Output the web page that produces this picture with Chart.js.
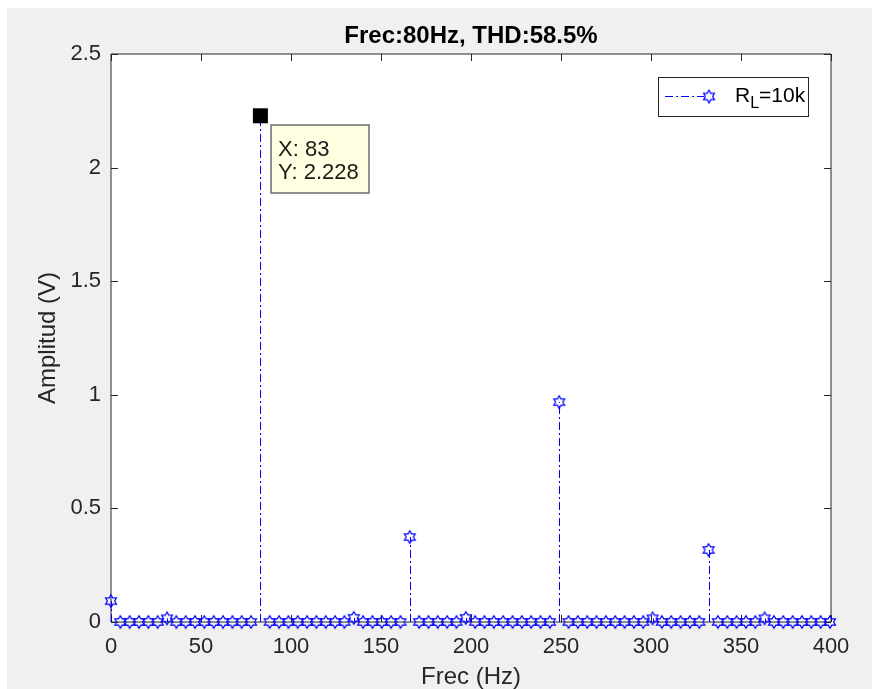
<!DOCTYPE html>
<html>
<head>
<meta charset="utf-8">
<script src="https://cdn.jsdelivr.net/npm/chart.js@4.4.1/dist/chart.umd.min.js"></script>
<style>
  html, body { margin:0; padding:0; background:#fff; }
  #wrap { width:872px; height:689px; }
</style>
</head>
<body>
<div id="wrap"><canvas id="fft" width="872" height="689"></canvas></div>
<script>
// spectrum: bin spacing of the FFT and the amplitude of each bin
const binHz = 83 / 16;
const amplitude = [
  0.092, 0, 0, 0, 0, 0, 0.016, 0, 0, 0,
  0, 0, 0, 0, 0, 0, 2.228, 0, 0, 0,
  0, 0, 0, 0, 0, 0, 0.018, 0, 0, 0,
  0, 0, 0.374, 0, 0, 0, 0, 0, 0.018, 0,
  0, 0, 0, 0, 0, 0, 0, 0, 0.968, 0,
  0, 0, 0, 0, 0, 0, 0, 0, 0.016, 0,
  0, 0, 0, 0, 0.317, 0, 0, 0, 0, 0,
  0.016, 0, 0, 0, 0, 0, 0, 0
];
const xTicks = [0, 50, 100, 150, 200, 250, 300, 350, 400];
const yTicks = [0, 0.5, 1, 1.5, 2, 2.5];
const tipPoint = { x: 83, y: 2.228 };
const titleText = "Frec:80Hz, THD:58.5%";

const FONT = "'Liberation Sans', Arial, Helvetica, sans-serif";
const AXIS = "#262626";
const BLUE = "#0000ff";

function hexagram(r, color){
  const size = Math.ceil(r * 2 + 3);
  const c = document.createElement("canvas");
  c.width = c.height = size;
  const g = c.getContext("2d");
  const cx = size / 2, cy = size / 2, ri = r / Math.sqrt(3);
  g.beginPath();
  for(let k = 0; k < 12; k++){
    const a = -Math.PI / 2 + k * Math.PI / 6;
    const rr = k % 2 === 0 ? r : ri;
    const px = cx + rr * Math.cos(a), py = cy + rr * Math.sin(a);
    if(k === 0) g.moveTo(px, py); else g.lineTo(px, py);
  }
  g.closePath();
  g.strokeStyle = color;
  g.lineWidth = 1.2;
  g.stroke();
  return c;
}
const marker = hexagram(6.3, BLUE);

const background = {
  id: "background",
  beforeDraw(chart){
    const { ctx, chartArea: a } = chart;
    ctx.save();
    ctx.fillStyle = "#ffffff";
    ctx.fillRect(0, 0, chart.width, chart.height);
    ctx.fillStyle = "#f0f0f0";
    ctx.fillRect(7, 8, chart.width - 7, chart.height - 8);
    ctx.fillStyle = "#ffffff";
    ctx.fillRect(a.left, a.top, a.right - a.left, a.bottom - a.top);
    ctx.restore();
  }
};

// axes box with inward ticks on all four sides, then the stems
const axesBox = {
  id: "axesBox",
  beforeDatasetsDraw(chart){
    const { ctx, chartArea: a, scales: { x, y } } = chart;
    const tl = 7;
    ctx.save();
    ctx.strokeStyle = AXIS;
    ctx.lineWidth = 1;
    ctx.beginPath();
    ctx.rect(a.left, a.top, a.right - a.left, a.bottom - a.top);
    xTicks.forEach(v => {
      const px = Math.round(x.getPixelForValue(v)) + 0.5;
      ctx.moveTo(px, a.bottom); ctx.lineTo(px, a.bottom - tl);
      ctx.moveTo(px, a.top); ctx.lineTo(px, a.top + tl);
    });
    yTicks.forEach(v => {
      const py = Math.round(y.getPixelForValue(v)) + 0.5;
      ctx.moveTo(a.left, py); ctx.lineTo(a.left + tl, py);
      ctx.moveTo(a.right, py); ctx.lineTo(a.right - tl, py);
    });
    ctx.stroke();

    const meta = chart.getDatasetMeta(0);
    const y0 = y.getPixelForValue(0);
    ctx.strokeStyle = BLUE;
    ctx.setLineDash([8, 3, 2, 3]);
    ctx.beginPath();
    meta.data.forEach(p => {
      if(y0 - p.y < 1) return;
      const px = Math.round(p.x) + 0.5;
      ctx.moveTo(px, y0); ctx.lineTo(px, p.y);
    });
    ctx.stroke();
    ctx.restore();
  }
};

const overlay = {
  id: "overlay",
  afterDraw(chart){
    const { ctx, chartArea: a, scales: { x, y } } = chart;
    ctx.save();

    // legend
    const lw = 150, lh = 39;
    const lx = a.right - 23 - lw, ly = a.top + 23;
    ctx.fillStyle = "#fff";
    ctx.fillRect(lx, ly, lw, lh);
    ctx.strokeStyle = AXIS;
    ctx.lineWidth = 1;
    ctx.strokeRect(lx + 0.5, ly + 0.5, lw, lh);
    const my = ly + 19.5;
    ctx.strokeStyle = BLUE;
    ctx.setLineDash([8, 3, 2, 3]);
    ctx.beginPath();
    ctx.moveTo(lx + 7, my); ctx.lineTo(lx + 46, my);
    ctx.stroke();
    ctx.setLineDash([]);
    ctx.drawImage(marker, lx + 51 - marker.width / 2, my - marker.height / 2);
    ctx.fillStyle = "#000";
    ctx.textBaseline = "alphabetic";
    ctx.font = "21px " + FONT;
    let tx = lx + 77;
    ctx.fillText("R", tx, ly + 25);
    tx += ctx.measureText("R").width;
    ctx.font = "16px " + FONT;
    ctx.fillText("L", tx, ly + 31);
    tx += ctx.measureText("L").width;
    ctx.font = "21px " + FONT;
    ctx.fillText("=10k", tx, ly + 25);

    // data tip
    const px = x.getPixelForValue(tipPoint.x);
    const py = y.getPixelForValue(tipPoint.y);
    ctx.fillStyle = "#000";
    ctx.fillRect(px - 7.5, py - 7.5, 15, 15);
    const bx = Math.round(px + 11), by = Math.round(py + 9);
    ctx.fillStyle = "#ffffe1";
    ctx.fillRect(bx, by, 98, 68);
    ctx.strokeStyle = "#6e6e6e";
    ctx.lineWidth = 1.5;
    ctx.strokeRect(bx, by, 98, 68);
    ctx.fillStyle = "#1a1a1a";
    ctx.font = "22px " + FONT;
    ctx.fillText("X: " + tipPoint.x, bx + 7, by + 31);
    ctx.fillText("Y: " + tipPoint.y, bx + 7, by + 54);
    ctx.restore();
  }
};

function buildChart(){
  const ctx = document.getElementById("fft");
  const points = amplitude.map((a, i) => ({ x: i * binHz, y: a }));

  new Chart(ctx, {
    type: "scatter",
    data: {
      datasets: [{
        label: "R_L=10k",
        data: points,
        pointStyle: marker,
        pointRadius: 6,
        showLine: false,
        clip: false
      }]
    },
    options: {
      responsive: false,
      animation: false,
      devicePixelRatio: 1,
      layout: { padding: { left: 0, right: 41, top: 0, bottom: 0 } },
      plugins: {
        legend: { display: false },
        tooltip: { enabled: false },
        title: {
          display: true,
          text: titleText,
          fullSize: false,
          color: "#000",
          font: { family: FONT, size: 24, weight: "bold", lineHeight: 1.2 },
          padding: { top: 22, bottom: 3.2 }
        }
      },
      scales: {
        x: {
          type: "linear", min: 0, max: 400,
          afterBuildTicks: s => { s.ticks = xTicks.map(v => ({ value: v })); },
          afterFit: s => { s.height = 67; },
          grid: { display: false, drawTicks: false },
          border: { display: false },
          ticks: { color: AXIS, font: { family: FONT, size: 22 }, padding: 12, maxRotation: 0, autoSkip: false,
                   callback: v => String(v) },
          title: { display: true, text: "Frec (Hz)", color: AXIS,
                   font: { family: FONT, size: 24, lineHeight: 1 }, padding: { top: 0, bottom: 0 } }
        },
        y: {
          min: 0, max: 2.5,
          afterBuildTicks: s => { s.ticks = yTicks.map(v => ({ value: v })); },
          afterFit: s => { s.width = 111; },
          grid: { display: false, drawTicks: false },
          border: { display: false },
          ticks: { color: AXIS, font: { family: FONT, size: 22 }, padding: 10,
                   callback: v => String(v) },
          title: { display: true, text: "Amplitud (V)", color: AXIS,
                   font: { family: FONT, size: 24, lineHeight: 1 }, padding: { top: 36, bottom: 0 } }
        }
      }
    },
    plugins: [background, axesBox, overlay]
  });
}

document.addEventListener("DOMContentLoaded", buildChart);
</script>
</body>
</html>
